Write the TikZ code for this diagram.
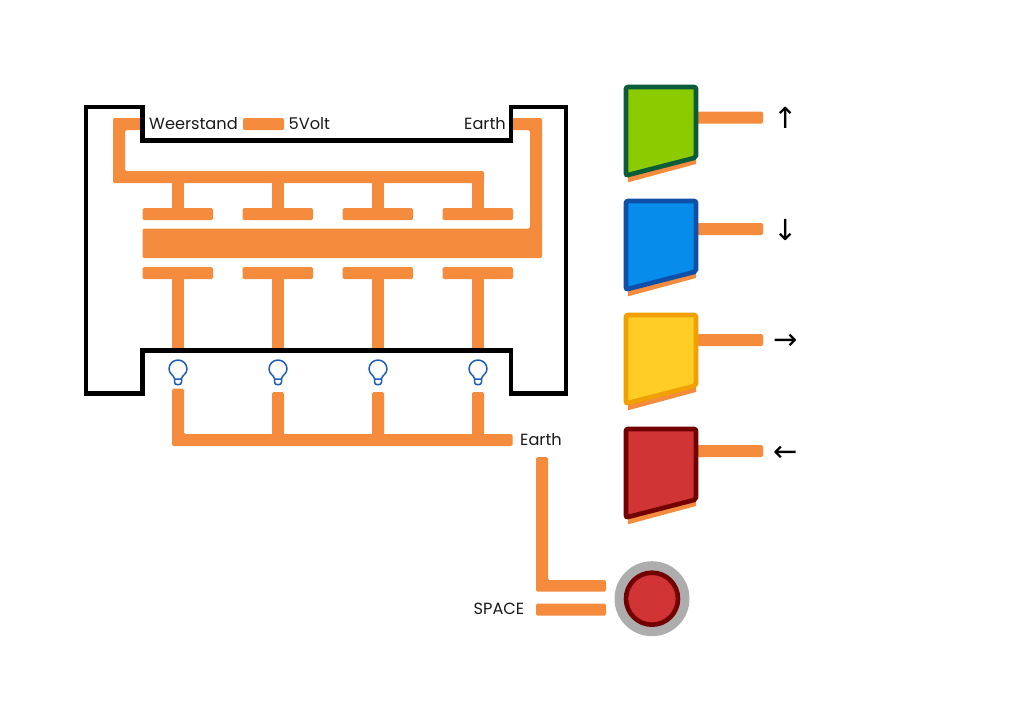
\documentclass[tikz,border=0pt]{standalone}
\usepackage{fontspec}
\setmainfont{Poppins}
\newfontfamily\arrowfont{DejaVu Sans}
\usepackage{xcolor}
\usetikzlibrary{positioning}
\definecolor{WireOrange}{HTML}{F58B3C}
\definecolor{BulbBlue}{HTML}{1F5DB8}
\definecolor{PadRed}{HTML}{D13434}
\definecolor{PadRedDark}{HTML}{720000}
\tikzset{
  wire/.style={fill=WireOrange,rounded corners=1.5pt},
  casing/.style={draw=black,line width=4.6pt,miter limit=10},
  pad/.style={line width=4.6pt,rounded corners=2pt},
  lbl/.style={font=\fontsize{16.2}{18}\selectfont,text=black!90,inner sep=0pt},
  arrowlbl/.style={font=\arrowfont\fontsize{29}{32}\selectfont,text=black,inner sep=0pt},
  bulb/.pic={
    \draw[BulbBlue,line width=1.5pt,line join=round]
      (-3.5,9) .. controls (-3.5,5.5) and (-9,4) .. (-9,-1)
      .. controls (-9,-6) and (-5,-10) .. (0,-10)
      .. controls (5,-10) and (9,-6) .. (9,-1)
      .. controls (9,4) and (3.5,5.5) .. (3.5,9) -- cycle
      (-3.5,9) -- (-3.5,12) .. controls (-3.5,14) and (-2,14.5) .. (-1,14.5)
      -- (1,14.5) .. controls (2,14.5) and (3.5,14) .. (3.5,12) -- (3.5,9);
  }
}
\begin{document}
\begin{tikzpicture}[x=1pt,y=-1pt]
  \useasboundingbox (0,0) rectangle (1010,716);
  % top wires
  \fill[wire] (113,118) -- (143,118) -- (143,130) -- (125,130) -- (125,171)
    -- (484,171) -- (484,183) -- (113,183) -- cycle;
  \fill[wire] (243,118) rectangle (284,130);
  \fill[wire] (510,118) -- (542,118) -- (542,258) -- (142.5,258) -- (142.5,228.5)
    -- (530,228.5) -- (530,130) -- (510,130) -- cycle;
  \foreach \px in {0,100,200,300} {
    \fill[wire] (142.5+\px,208) rectangle (213+\px,220);
    \fill[WireOrange] (172+\px,180) rectangle (184+\px,210);
    \fill[wire] (142.5+\px,267) rectangle (213+\px,279);
    \fill[WireOrange] (172+\px,277) rectangle (184+\px,350);
    \pic at (178+\px,370) {bulb};
  }
  % lower wires
  \fill[wire] (172,388.5) -- (184,388.5) -- (184,434) -- (512.5,434) -- (512.5,446)
    -- (172,446) -- cycle;
  \foreach \px in {100,200,300} {
    \fill[wire] (172+\px,392) rectangle (184+\px,438);
  }
  \fill[wire] (536,457) -- (548,457) -- (548,580) -- (606,580) -- (606,591.5)
    -- (536,591.5) -- cycle;
  \fill[wire] (536,603.5) rectangle (606,615.5);
  % casing
  \draw[casing] (86,107) -- (142.5,107) -- (142.5,140.5) -- (511,140.5) -- (511,107)
    -- (566,107) -- (566,393.5) -- (511,393.5) -- (511,350.5) -- (142.5,350.5)
    -- (142.5,393.5) -- (86,393.5) -- cycle;
  % game pads
  \foreach \py/\wy/\padfill/\padline in {0/117.5/8CCB00/0A5C3A,114/229/068DEC/0F4FA8,228/340/FFCD26/F0A000,342/451/D13434/720000} {
    \definecolor{padfill}{HTML}{\padfill}
    \definecolor{padline}{HTML}{\padline}
    \fill[wire] (690,\wy-6) rectangle (763,\wy+6);
    \fill[WireOrange] (628,170+\py) -- (696,152+\py) -- (696,164+\py) -- (628,182.3+\py) -- cycle;
    \draw[pad,fill=padfill,draw=padline] (626,87+\py) -- (696,87+\py) -- (696,157.5+\py)
      -- (626,175.5+\py) -- cycle;
  }
  % space button
  \fill[black!32] (652,598.7) circle (37.5);
  \draw[line width=4.6pt,fill=PadRed,draw=PadRedDark] (652,598.7) circle (26);
  % labels
  \node[lbl,anchor=west] (weerstand) at (149,124) {Weerstand};
  \node[lbl,anchor=west] (volt) at (288.5,124) {5Volt};
  \node[lbl,anchor=east] (earthtop) at (506,124) {Earth};
  \node[lbl,anchor=west] (earthlow) at (520,440) {Earth};
  \node[lbl,anchor=east] (space) at (524.5,609) {SPACE};
  \node[arrowlbl] (up) at (786,118) {↑};
  \node[arrowlbl] (down) at (786,229.5) {↓};
  \node[arrowlbl] (right) at (786,342) {→};
  \node[arrowlbl] (left) at (786,454) {←};
\end{tikzpicture}
\end{document}
